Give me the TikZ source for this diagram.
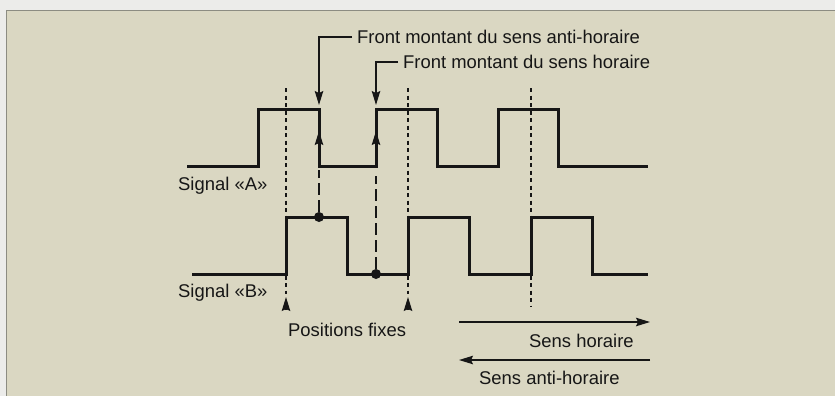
\documentclass[tikz,border=0pt]{standalone}
\usepackage{fontspec}
\setmainfont{Liberation Sans}
\usetikzlibrary{arrows.meta, positioning}

\definecolor{beige}{RGB}{218,215,194}
\definecolor{gris}{RGB}{236,236,234}
\definecolor{cadre}{RGB}{140,140,130}
\definecolor{encre}{RGB}{22,22,22}

\begin{document}
\begin{tikzpicture}[x=1bp, y=-1bp, >={Stealth[length=14bp, width=8.5bp, inset=2bp]}, font=\fontsize{18.5}{20}\selectfont, color=encre]
	\tikzstyle{signal} = [line width=3bp]
	\tikzstyle{repere} = [line width=1.4bp, dash pattern=on 4bp off 3.5bp]
	\tikzstyle{front} = [line width=1.5bp, dash pattern=on 12bp off 5bp]
	\tikzstyle{fleche} = [line width=1.5bp, ->]
	\tikzstyle{point} = [circle, fill, minimum size=10bp, inner sep=0pt]
	\tikzstyle{texte} = [inner sep=0pt, anchor=base west]
	\tikzstyle{legende} = [inner sep=0pt, inner xsep=5bp, anchor=west]

	\useasboundingbox (0,0) rectangle (835,396);
	\fill[gris] (0,0) rectangle (835,396);
	\fill[beige] (6,10) rectangle (835,396);
	\draw[cadre, line width=1bp] (835,10) -- (6,10) -- (6,396);

	% signaux A et B
	\draw[signal] (187,166) -- (258,166) |- (319,109) |- (376,166) |- (437,109) |- (498,166) |- (558,109) |- (648,166);
	\draw[signal] (192,274) -- (286,274) |- (347,217) |- (408,274) |- (469,217) |- (531,274) |- (592,217) |- (648,274);

	\draw[repere] (286,88) -- (286,294);
	\draw[repere] (408,88) -- (408,294);
	\draw[repere] (531,88) -- (531,307);

	\path
		node[texte] (sigA) at (178,190) {Signal «A»}
		node[texte] (sigB) at (178,297) {Signal «B»}
		node[legende] (antiH) at (352,37) {Front montant du sens anti-horaire}
		node[legende] (hor) at (398,62) {Front montant du sens horaire}
		node[texte] (fixes) at (288,336) {Positions fixes}
		node[texte] (sensH) at (529,347) {Sens horaire}
		node[texte] (sensAH) at (479,384) {Sens anti-horaire}
		node[point] (p1) at (319,217) {}
		node[point] (p2) at (376,274) {}
	;

	\coordinate (fA1) at (319,105);
	\coordinate (fA2) at (376,105);
	\coordinate (mA1) at (319,131);
	\coordinate (mA2) at (376,131);
	\coordinate (bA1) at (319,166);
	\coordinate (bA2) at (376,166);
	\coordinate (fx1) at (286,297);
	\coordinate (fx2) at (408,297);
	\coordinate (g) at (459,322);
	\coordinate (d) at (650,322);
	\coordinate (g2) at (459,360);
	\coordinate (d2) at (650,360);

	\draw[fleche] (antiH.west) -| (fA1);
	\draw[fleche] (hor.west) -| (fA2);
	\draw[front] (p1) -- (319,170);
	\draw[front] (p2) -- (376,176);
	\draw[fleche] (bA1) -- (mA1);
	\draw[fleche] (bA2) -- (mA2);
	\draw[fleche] ([yshift=-13bp]fx1) -- (fx1);
	\draw[fleche] ([yshift=-13bp]fx2) -- (fx2);
	\draw[fleche] (g) -- (d);
	\draw[fleche] (d2) -- (g2);
\end{tikzpicture}
\end{document}
